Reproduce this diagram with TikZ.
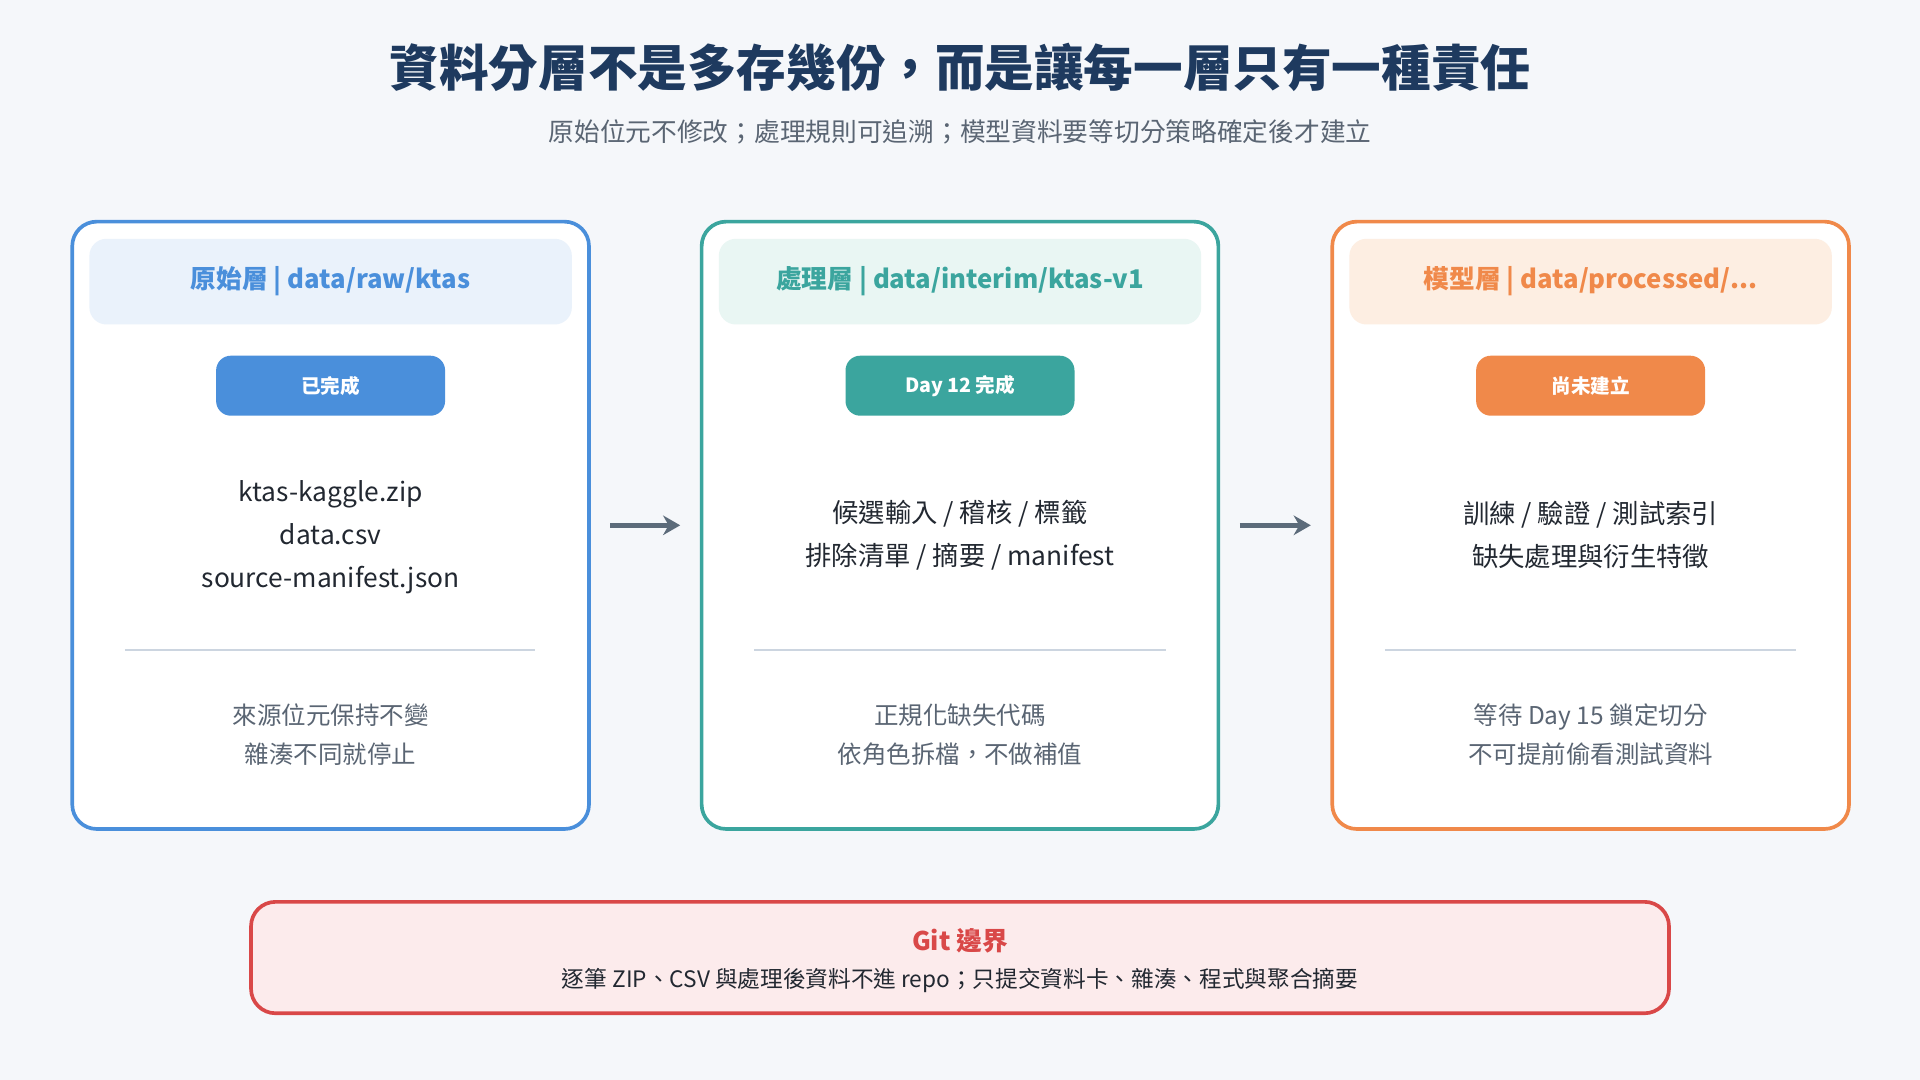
\documentclass[tikz,border=0pt]{standalone}
\usepackage{fontspec}
\setmainfont{Noto Sans CJK TC}
\usetikzlibrary{arrows.meta,positioning}
\definecolor{bgc}{HTML}{F5F7FA}
\definecolor{navy}{HTML}{1E3A5F}
\definecolor{greytxt}{HTML}{5A6573}
\definecolor{bodytxt}{HTML}{222831}
\definecolor{rawc}{HTML}{4A8FDB}
\definecolor{rawf}{HTML}{EAF2FB}
\definecolor{procc}{HTML}{3BA59E}
\definecolor{procf}{HTML}{E9F6F3}
\definecolor{modc}{HTML}{F0894A}
\definecolor{modf}{HTML}{FDEEE2}
\definecolor{gitc}{HTML}{D94848}
\definecolor{gitf}{HTML}{FCEBEC}
\definecolor{sepc}{HTML}{CCD5E0}
\definecolor{arrc}{HTML}{5C6B7A}
\tikzset{
  layer/.style={draw=#1,line width=3pt,rounded corners=20pt,fill=white,minimum width=422pt,minimum height=496pt},
  head/.style={fill=#1,rounded corners=14pt,minimum width=394pt,minimum height=70pt},
  pill/.style={fill=#1,rounded corners=12pt,minimum width=187pt,minimum height=49pt,text=white,font=\fontsize{16}{16}\selectfont\bfseries},
  body/.style={align=center,text=bodytxt,font=\fontsize{21.5}{35}\selectfont},
  note/.style={align=center,text=greytxt,font=\fontsize{20}{32}\selectfont},
  sep/.style={draw=sepc,line width=1.5pt},
  arr/.style={draw=arrc,line width=4pt,-{Stealth[length=14pt,width=16pt]},shorten <=16pt,shorten >=16pt}
}
\begin{document}
\begin{tikzpicture}[x=1pt,y=-1pt]
  \fill[bgc] (0,0) rectangle (1568,882);
  % title
  \node[text=navy,font=\fontsize{40.5}{40}\selectfont\bfseries] (title) at (784,55) {資料分層不是多存幾份，而是讓每一層只有一種責任};
  \node[text=greytxt,font=\fontsize{21}{21}\selectfont] (sub) at (784,108) {原始位元不修改；處理規則可追溯；模型資料要等切分策略確定後才建立};
  % layers
  \node[layer=rawc] (raw) at (270,429) {};
  \node[layer=procc] (proc) at (784,429) {};
  \node[layer=modc] (mod) at (1299,429) {};
  \node[head=rawf,text=rawc,font=\fontsize{21}{21}\selectfont\bfseries] (rawh) at (270,230) {原始層 | data/raw/ktas};
  \node[head=procf,text=procc,font=\fontsize{21}{21}\selectfont\bfseries] (proch) at (784,230) {處理層 | data/interim/ktas-v1};
  \node[head=modf,text=modc,font=\fontsize{21}{21}\selectfont\bfseries] (modh) at (1299,230) {模型層 | data/processed/...};
  \node[pill=rawc] (rawp) at (270,315) {已完成};
  \node[pill=procc] (procp) at (784,315) {Day 12 完成};
  \node[pill=modc] (modp) at (1299,315) {尚未建立};
  \node[body] (rawb) at (270,439) {ktas-kaggle.zip\\data.csv\\source-manifest.json};
  \node[body] (procb) at (784,437) {候選輸入 / 稽核 / 標籤\\排除清單 / 摘要 / manifest};
  \node[body] (modb) at (1299,437) {訓練 / 驗證 / 測試索引\\缺失處理與衍生特徵};
  \draw[sep] (102,531) -- (437,531);
  \draw[sep] (616,531) -- (952,531);
  \draw[sep] (1131,531) -- (1467,531);
  \node[note] (rawn) at (270,600) {來源位元保持不變\\雜湊不同就停止};
  \node[note] (procn) at (784,600) {正規化缺失代碼\\依角色拆檔，不做補值};
  \node[note] (modn) at (1299,600) {等待 Day 15 鎖定切分\\不可提前偷看測試資料};
  % arrows
  \draw[arr] (raw.east) -- (proc.west);
  \draw[arr] (proc.east) -- (mod.west);
  % git boundary
  \node[draw=gitc,fill=gitf,line width=3pt,rounded corners=20pt,minimum width=1158pt,minimum height=91pt] (git) at (784,782) {};
  \node[text=gitc,font=\fontsize{21}{21}\selectfont\bfseries] (gith) at (784,768) {Git 邊界};
  \node[text=bodytxt,font=\fontsize{18.5}{18}\selectfont] (gitt) at (784,801) {逐筆 ZIP、CSV 與處理後資料不進 repo；只提交資料卡、雜湊、程式與聚合摘要};
\end{tikzpicture}
\end{document}
